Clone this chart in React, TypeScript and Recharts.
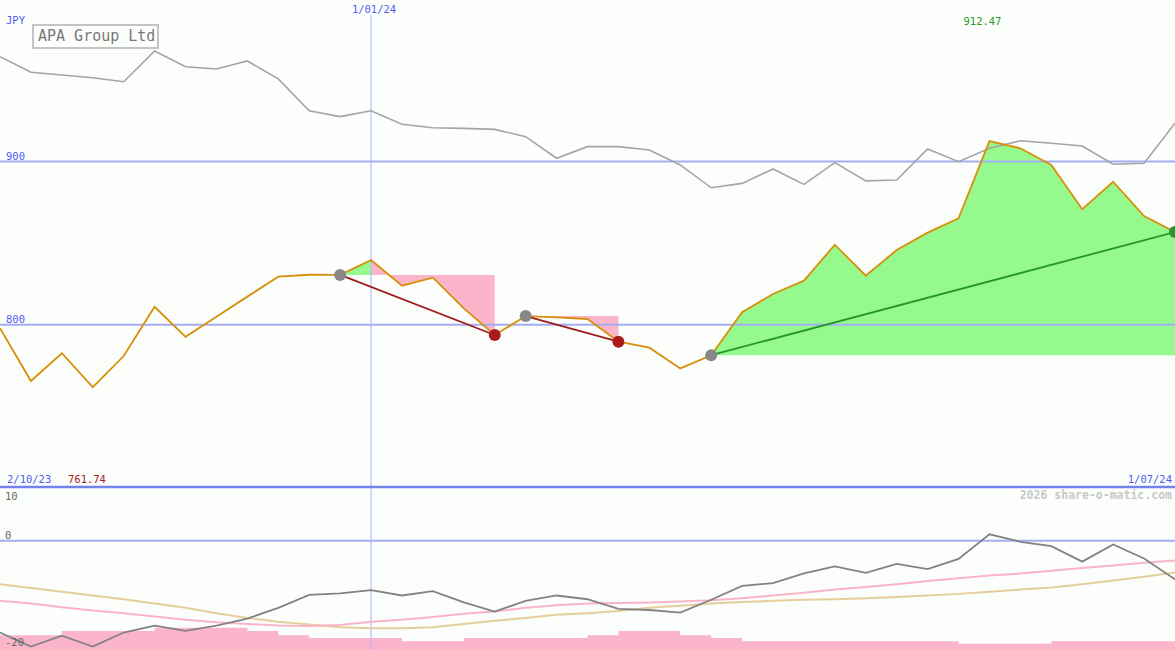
import { ComposedChart, Line, Area, XAxis, YAxis, ReferenceLine, Customized } from 'recharts'

// weekly closes, 2/10/23 .. 1/07/24
const price = [797.8, 765.5, 782.5, 761.74, 780.8, 811.0, 792.6, 804.9, 817.2, 829.4, 830.6, 830.5, 839.6, 823.9, 828.8, 810.0, 793.7, 805.3, 804.5, 803.5, 789.6, 785.9, 773.2, 781.3, 807.6, 818.8, 827.0, 849.0, 830.0, 845.8, 856.4, 865.2, 912.47, 908.1, 897.9, 870.8, 887.6, 866.6, 856.8]
const peer = [964.2, 954.7, 953.0, 951.3, 948.9, 967.7, 958.1, 956.7, 961.6, 950.6, 931.1, 927.5, 931.1, 922.8, 920.7, 920.3, 919.7, 915.2, 902.0, 909.1, 909.1, 907.0, 897.9, 883.9, 886.6, 895.4, 886.0, 899.3, 888.1, 888.7, 907.7, 899.9, 908.1, 912.7, 911.2, 909.5, 898.3, 898.9, 923.4]

// lower panel
const momentum = [-17.1, -19.7, -17.7, -19.7, -17.1, -15.8, -16.8, -15.8, -14.5, -12.5, -10.1, -9.8, -9.2, -10.2, -9.4, -11.5, -13.2, -11.2, -10.2, -10.9, -12.7, -12.9, -13.4, -11.0, -8.4, -7.9, -6.1, -4.8, -6.0, -4.3, -5.3, -3.4, 1.2, -0.2, -1.0, -3.9, -0.7, -3.3, -7.2]
const pinkAvg = [-11.2, -11.7, -12.4, -13.0, -13.5, -14.1, -14.7, -15.2, -15.5, -15.8, -15.9, -15.7, -15.1, -14.7, -14.2, -13.6, -13.2, -12.5, -12.0, -11.7, -11.6, -11.5, -11.3, -11.1, -10.7, -10.2, -9.7, -9.1, -8.6, -8.1, -7.5, -7.0, -6.5, -6.1, -5.6, -5.1, -4.6, -4.1, -3.7]
const tanAvg = [-8.1, -8.8, -9.5, -10.2, -10.9, -11.7, -12.5, -13.5, -14.4, -15.1, -15.6, -16.1, -16.3, -16.3, -16.1, -15.5, -14.9, -14.4, -13.8, -13.5, -13.1, -12.5, -12.1, -11.7, -11.4, -11.2, -11.0, -10.9, -10.7, -10.5, -10.2, -9.9, -9.5, -9.1, -8.7, -8.1, -7.4, -6.7, -5.9]
const bars = [-17.6, -17.6, -16.8, -16.8, -16.8, -16.2, -16.2, -16.2, -16.8, -17.6, -18.1, -18.1, -18.1, -18.7, -18.7, -18.1, -18.1, -18.1, -18.1, -17.6, -16.8, -16.8, -17.6, -18.1, -18.7, -18.7, -18.7, -18.7, -18.7, -18.7, -18.7, -19.2, -19.2, -19.2, -18.7, -18.7, -18.7, -18.7, -18.7]

// trades: entry index -> exit index
const trades = [
  { from: 11, to: 16 },
  { from: 17, to: 20 },
  { from: 23, to: 38 },
]

const priceTicks = [800, 900]
const lowerTicks = [10, 0, -20]
const markIndex = 12
const startLabel = '2/10/23'
const markLabel = '1/01/24'
const endLabel = '1/07/24'

const W = 1175
const TOP_H = 487
const LOW_H = 163
const P_LO = 700.55
const P_HI = 998.96
const L_LO = -20.35
const L_HI = 10
const LAST = price.length - 1

const BG = '#fcfefc'
const GRID = '#a4adf2'
const BLUE_TXT = '#4f5cf0'
const GREEN = '#96f98e'
const PINK = '#fab5ca'
const MONO = '"DejaVu Sans Mono", monospace'

// shading runs: each segment coloured by whether it ends above/below the entry level
type Run = { key: string; from: number; to: number; level: number; fill: string }
const runs: Run[] = []
trades.forEach((t) => {
  const level = price[t.from]
  let start = t.from
  let up = price[t.from + 1] >= level
  for (let j = t.from + 1; j <= t.to; j++) {
    const segUp = price[j] >= level
    if (segUp !== up) {
      runs.push({ key: 'run' + runs.length, from: start, to: j - 1, level, fill: up ? GREEN : PINK })
      start = j - 1
      up = segUp
    }
  }
  runs.push({ key: 'run' + runs.length, from: start, to: t.to, level, fill: up ? GREEN : PINK })
})

const data = price.map((p, i) => {
  const row: any = { i, price: p, peer: peer[i], momentum: momentum[i], pinkAvg: pinkAvg[i], tanAvg: tanAvg[i], bars: bars[i] }
  runs.forEach((r) => {
    row[r.key] = i >= r.from && i <= r.to ? [r.level, p] : null
  })
  trades.forEach((t, k) => {
    row['trade' + k] = i === t.from || i === t.to ? p : null
  })
  return row
})

const min = Math.min(...price)
const max = Math.max(...price)
const maxIdx = price.indexOf(max)
const xOf = (i: number) => (i * W) / LAST

const PriceTick = (props: any) => (
  <text x={6} y={props.y - 2} fontSize={10.5} fontFamily={MONO} fill={BLUE_TXT}>
    {props.payload.value}
  </text>
)

const LowerTick = (props: any) => (
  <text x={5} y={props.payload.value === L_HI ? props.y + 13 : props.y - 2} fontSize={10.5} fontFamily={MONO} fill="#666">
    {props.payload.value}
  </text>
)

const tradeDot = (t: { from: number; to: number }) => (p: any) => {
  if (p.value == null || p.cx == null) return <g key={p.index} />
  const exitColor = price[t.to] >= price[t.from] ? '#22992a' : '#a81c1c'
  return <circle key={p.index} cx={p.cx} cy={p.cy} r={6} fill={p.payload.i === t.from ? '#888' : exitColor} />
}

const Labels = () => (
  <g fontFamily={MONO}>
    <text x={6} y={24} fontSize={10.5} fill={BLUE_TXT}>JPY</text>
    <text x={xOf(markIndex) + 3} y={13} fontSize={10.5} fill={BLUE_TXT} textAnchor="middle">{markLabel}</text>
    <text x={xOf(maxIdx) - 7} y={25} fontSize={10.5} fill="#229922" textAnchor="middle">{max.toFixed(2)}</text>
    <text x={7} y={483} fontSize={10.5} fill={BLUE_TXT}>{startLabel}</text>
    <text x={68} y={483} fontSize={10.5} fill="#a01c1c">{min.toFixed(2)}</text>
    <text x={1172} y={483} fontSize={10.5} fill={BLUE_TXT} textAnchor="end">{endLabel}</text>
    <rect x={33} y={25} width={125} height={23} fill={BG} stroke="#c4c4c4" strokeWidth={2} />
    <text x={38} y={41} fontSize={15} fill="#777">APA Group Ltd</text>
  </g>
)

export default function App() {
  return (
    <div style={{ position: 'absolute', left: 0, top: 0, width: W, height: 650, background: BG, overflow: 'hidden' }}>
      <div style={{ position: 'absolute', left: 0, top: 0 }}>
        <ComposedChart width={W} height={TOP_H} data={data} margin={{ top: 0, right: 0, bottom: 0, left: 0 }}>
          <XAxis type="number" dataKey="i" domain={[0, LAST]} hide />
          {priceTicks.map((v) => (
            <ReferenceLine key={v} y={v} stroke={GRID} strokeWidth={2} />
          ))}
          <ReferenceLine segment={[{ x: markIndex, y: 989.8 }, { x: markIndex, y: P_LO }]} stroke="#a8b4fa" strokeWidth={1} />
          {runs.map((r) => (
            <Area key={r.key} dataKey={r.key} type="linear" stroke="none" fill={r.fill} fillOpacity={1} isAnimationActive={false} activeDot={false} />
          ))}
          <Line dataKey="peer" type="linear" stroke="#a4a4a4" strokeWidth={1.6} dot={false} activeDot={false} isAnimationActive={false} />
          <Line dataKey="price" type="linear" stroke="#d8900a" strokeWidth={1.8} dot={false} activeDot={false} isAnimationActive={false} />
          {trades.map((t, k) => (
            <Line
              key={k}
              dataKey={'trade' + k}
              type="linear"
              connectNulls
              stroke={price[t.to] >= price[t.from] ? '#229922' : '#a01c1c'}
              strokeWidth={1.8}
              dot={tradeDot(t)}
              activeDot={false}
              isAnimationActive={false}
            />
          ))}
          <YAxis domain={[P_LO, P_HI]} ticks={priceTicks} interval={0} mirror width={40} axisLine={false} tickLine={false} tick={<PriceTick />} allowDataOverflow />
        </ComposedChart>
      </div>
      <div style={{ position: 'absolute', left: 0, top: TOP_H }}>
        <ComposedChart width={W} height={LOW_H} data={data} margin={{ top: 0, right: 0, bottom: 0, left: 0 }}>
          <XAxis type="number" dataKey="i" domain={[0, LAST]} hide />
          <ReferenceLine y={0} stroke={GRID} strokeWidth={2} />
          <ReferenceLine x={markIndex} stroke="#a8b4fa" strokeWidth={1} />
          <Area dataKey="bars" type="stepAfter" baseValue={L_LO} stroke="none" fill={PINK} fillOpacity={1} isAnimationActive={false} activeDot={false} />
          <Line dataKey="tanAvg" type="linear" stroke="#e4cf9c" strokeWidth={2} dot={false} activeDot={false} isAnimationActive={false} />
          <Line dataKey="pinkAvg" type="linear" stroke="#f9b4c8" strokeWidth={2} dot={false} activeDot={false} isAnimationActive={false} />
          <Line dataKey="momentum" type="linear" stroke="#828282" strokeWidth={1.8} dot={false} activeDot={false} isAnimationActive={false} />
          <YAxis domain={[L_LO, L_HI]} ticks={lowerTicks} interval={0} mirror width={40} axisLine={false} tickLine={false} tick={<LowerTick />} allowDataOverflow />
          <Customized component={() => (
            <text x={1172} y={12} fontSize={11.5} fontWeight="bold" fontFamily={MONO} fill="#c8c8c8" textAnchor="end">
              2026 share-o-matic.com
            </text>
          )} />
        </ComposedChart>
      </div>
      <svg width={W} height={650} style={{ position: 'absolute', left: 0, top: 0, pointerEvents: 'none' }}>
        <line x1={0} x2={W} y1={TOP_H} y2={TOP_H} stroke="#7383ea" strokeWidth={2.5} />
        <Labels />
      </svg>
    </div>
  )
}
